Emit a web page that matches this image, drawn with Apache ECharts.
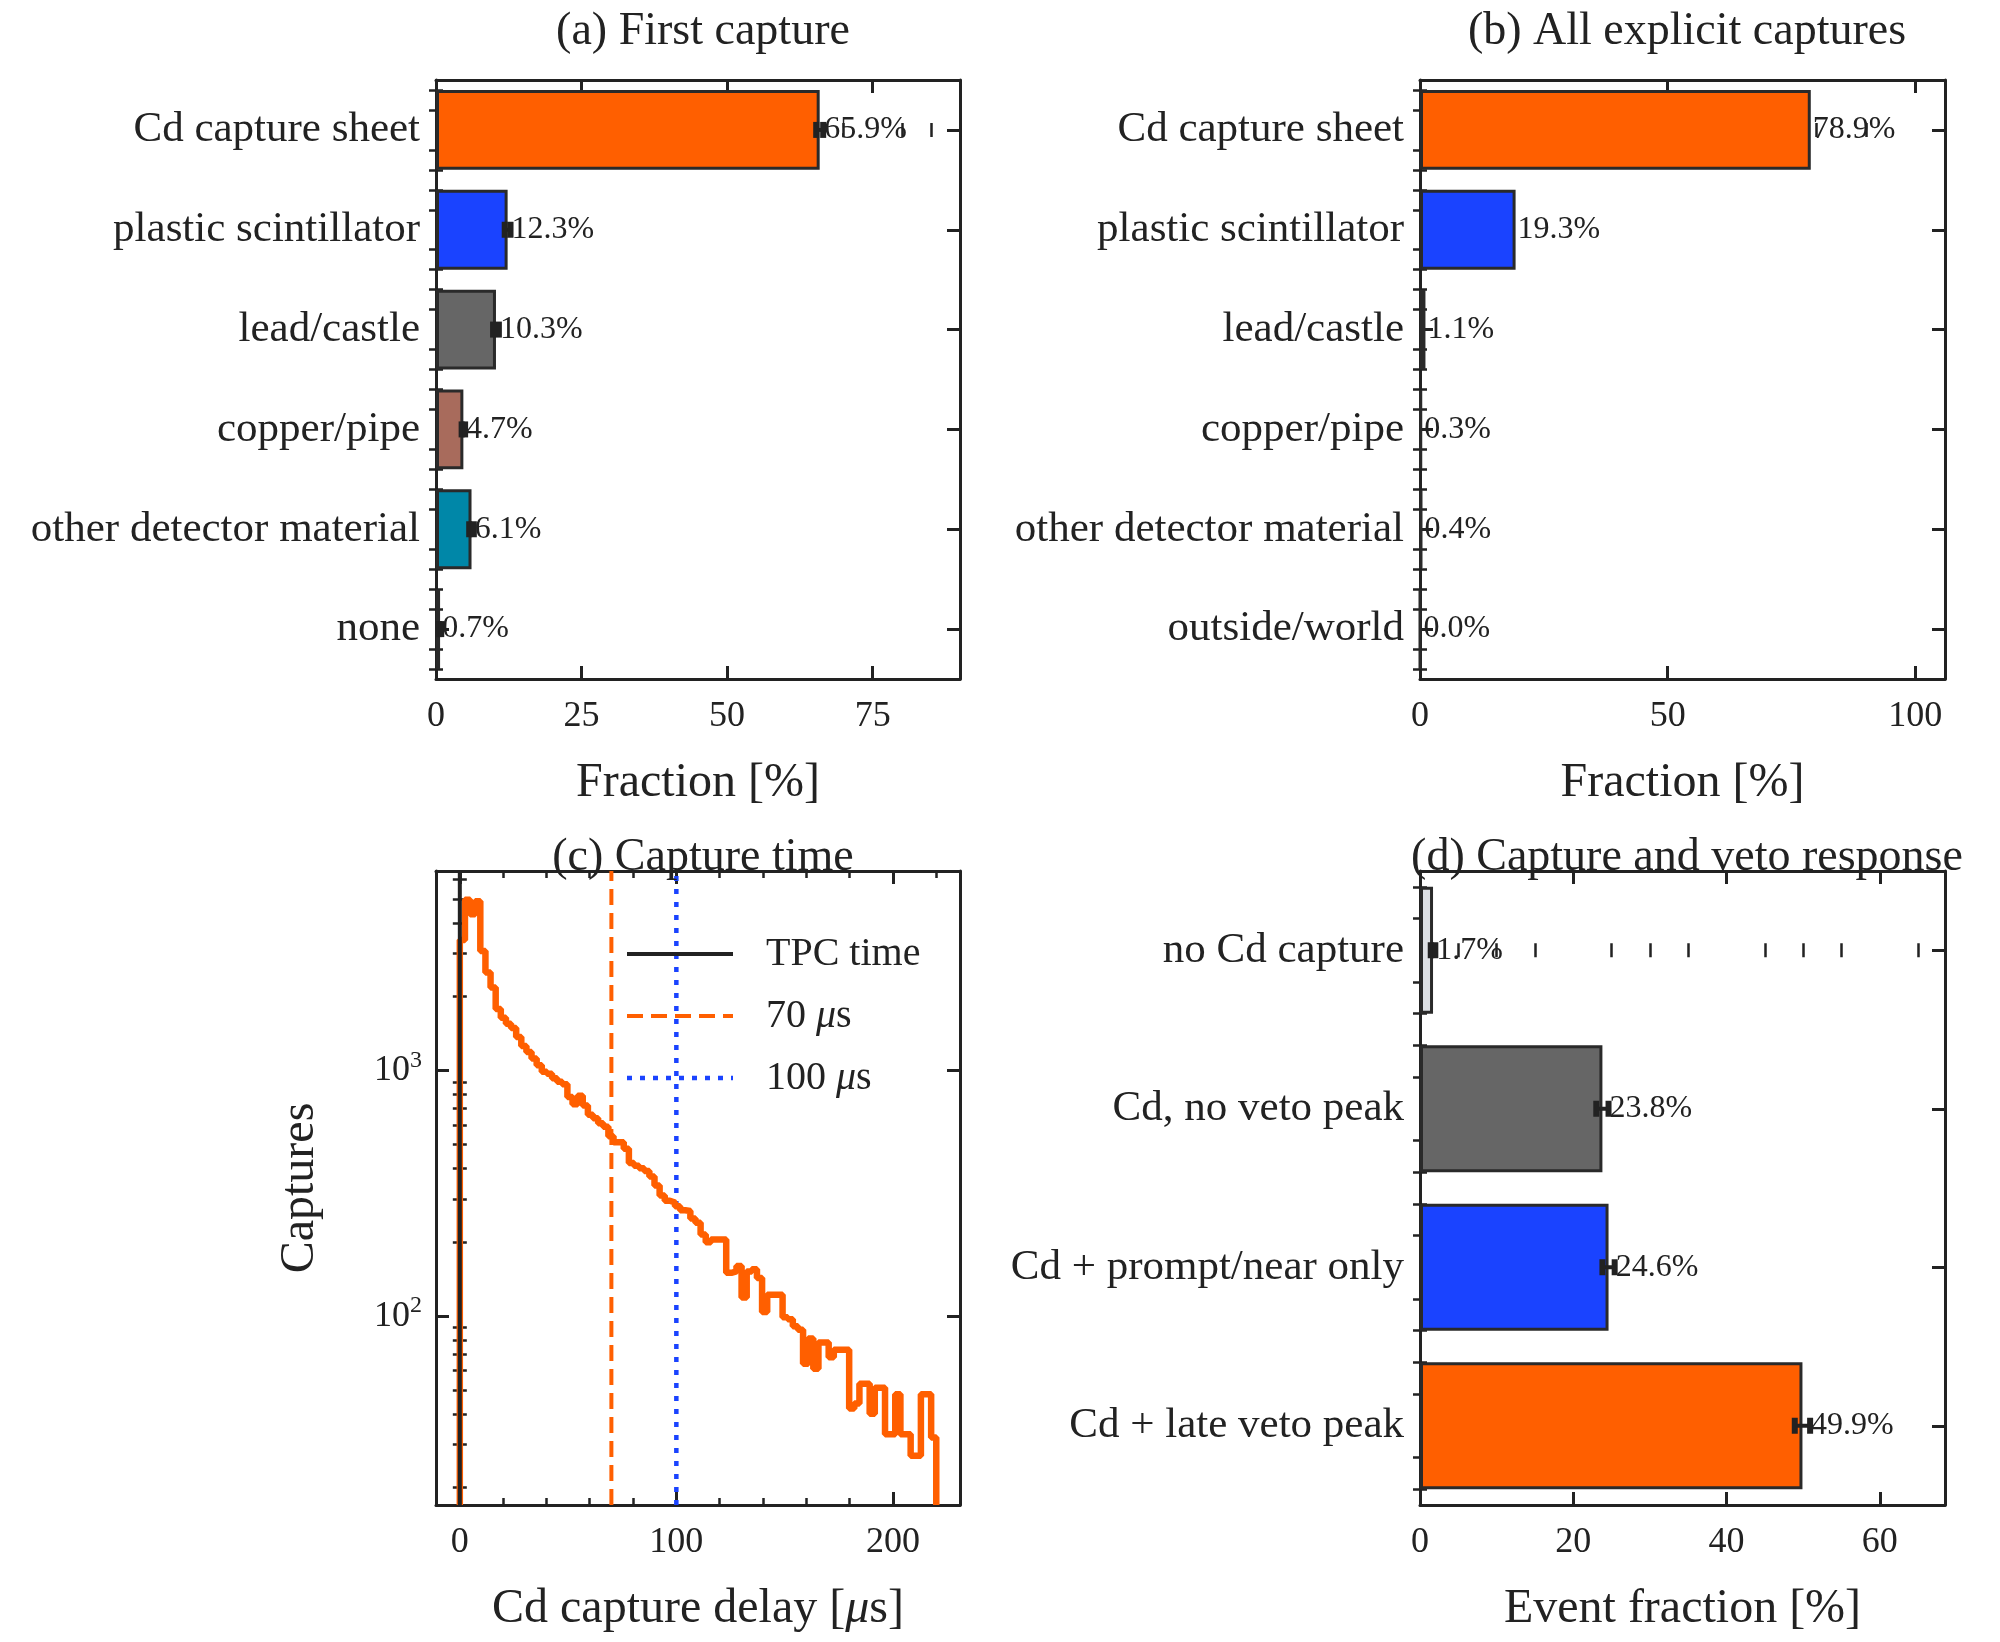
<!DOCTYPE html>
<html><head><meta charset="utf-8">
<script src="https://cdn.jsdelivr.net/npm/echarts@6/dist/echarts.min.js"></script>
<style>html,body{margin:0;background:#fff}#c{width:2000px;height:1642px}</style></head>
<body><div id="c"></div>
<script>
const catsA = ['Cd capture sheet','plastic scintillator','lead/castle','copper/pipe','other detector material','none'];
const valsA = [65.9,12.3,10.3,4.7,6.1,0.7];
const errA = [0.6,0.5,0.5,0.3,0.4,0.2];
const colA = ['#ff5f00','#1a43ff','#666666','#a86b5c','#0087a8','#c8ccd2'];
const catsB = ['Cd capture sheet','plastic scintillator','lead/castle','copper/pipe','other detector material','outside/world'];
const valsB = [78.9,19.3,1.1,0.3,0.4,0.0];
const colB = ['#ff5f00','#1a43ff','#666666','#a86b5c','#0087a8','#c8ccd2'];
const catsD = ['no Cd capture','Cd, no veto peak','Cd + prompt/near only','Cd + late veto peak'];
const valsD = [1.7,23.8,24.6,49.9];
const errD = [0.3,0.8,0.8,1.0];
const colD = ['#dde0e4','#666666','#1a43ff','#ff5f00'];
const binWidth = 2.366;
const counts = [3400,4960,4330,4900,3070,2510,2180,1780,1640,1550,1490,1370,1260,1190,1120,1050,990,970,930,900,880,780,730,790,720,660,640,610,590,540,510,510,480,420,410,400,390,370,340,310,295,290,280,270,268,250,240,215,200,205,205,205,150,152,160,119,152,155,143,104,122,122,122,99,97,91,88,64,81,61,78,78,68,73,73,73,42,44,53,53,40,51,51,33,33,48,33,33,27,27,48,48,32];
const cutLines = [0,70,100];
const legendNames = ['TPC time','70 ','100 '];

const F = 'Liberation Serif';
const ink = '#222';
const grids = [
  {left:436,top:80,width:524,height:599},
  {left:1420,top:80,width:525,height:599},
  {left:436,top:871,width:524,height:634},
  {left:1420,top:871,width:525,height:634}
];
const xAxes=[], yAxes=[], series=[];
function range(a,b,s){const r=[];for(let v=a;v<=b+1e-9;v+=s)r.push(Math.round(v*1000)/1000);return r;}
// adds 4 axes (labeled main, mirror, minor, mirror-minor); returns index of main
function addAxes(list, dim, g, o){
  const idx=list.length;
  const pos = dim==='x'?['bottom','top']:['left','right'];
  const base={type:o.type||'value',gridIndex:g,min:o.min,max:o.max,inverse:!!o.inverse,splitLine:{show:false}};
  const line={show:true,onZero:false,lineStyle:{color:ink,width:3}};
  list.push(Object.assign({},base,{position:pos[0],axisLine:line,
    name:o.name||'',nameLocation:'middle',nameGap:o.nameGap||80,
    nameTextStyle:{fontFamily:F,fontSize:48,color:ink,rich:{i:{fontFamily:F,fontStyle:'italic',fontSize:48,color:ink}}},
    axisLabel:Object.assign({fontFamily:F,fontSize:o.lfs||36,color:ink,margin:o.margin||20,customValues:o.major,
      showMinLabel:true,showMaxLabel:true},o.label||{}),
    axisTick:{show:true,inside:true,length:13,lineStyle:{color:ink,width:3},customValues:o.major}}));
  list.push(Object.assign({},base,{position:pos[1],axisLine:line,axisLabel:{show:false},
    axisTick:{show:true,inside:true,length:13,lineStyle:{color:ink,width:3},customValues:o.major}}));
  [0,1].forEach(k=>list.push(Object.assign({},base,{position:pos[k],axisLine:{show:false},axisLabel:{show:false},
    axisTick:{show:true,inside:true,length:7,lineStyle:{color:ink,width:2.5},customValues:o.minor}})));
  return idx;
}
function barPanel(g, cats, vals, cols, errs, xmax, major, minorStep, name){
  const xi=addAxes(xAxes,'x',g,{min:0,max:xmax,major:major,minor:range(0,xmax,minorStep).filter(v=>!major.includes(v)),name:'Fraction [%]'.length&&name});
  const n=cats.length;
  addAxes(yAxes,'y',g,{min:-0.5,max:n-0.5,inverse:true,major:range(0,n-1,1),
    minor:range(-0.4,n-0.6,0.2).filter(v=>Math.abs(v-Math.round(v))>1e-6),
    lfs:43,margin:16,label:{formatter:v=>cats[Math.round(v)]}});
  const yi=yAxes.length;
  yAxes.push({type:'category',gridIndex:g,data:cats,inverse:true,show:false});
  series.push({type:'bar',xAxisIndex:xi,yAxisIndex:yi,barWidth:'80%',
    data: vals.map((v,i)=>({value:v,itemStyle:{color:cols[i],borderColor:'#2a2a2a',borderWidth:3}})),
    label: errs? {show:false} : {show:true,position:'right',distance:2,fontFamily:F,fontSize:32,color:ink,formatter:p=>p.value.toFixed(1)+'%'}});
  if(errs){
    series.push({type:'custom',xAxisIndex:xi,yAxisIndex:yi,z:10,
      data: vals.map((v,i)=>[v,i,errs[i]]),
      renderItem:(params,api)=>{
        const v=api.value(0), c=api.value(1), e=api.value(2);
        const p1=api.coord([v-e,c]), p2=api.coord([v+e,c]);
        const h=8;
        return {type:'group',children:[
          {type:'line',shape:{x1:p1[0],y1:p1[1],x2:p2[0],y2:p2[1]},style:{stroke:'#222',lineWidth:4}},
          {type:'line',shape:{x1:p1[0],y1:p1[1]-h,x2:p1[0],y2:p1[1]+h},style:{stroke:'#222',lineWidth:6}},
          {type:'line',shape:{x1:p2[0],y1:p2[1]-h,x2:p2[0],y2:p2[1]+h},style:{stroke:'#222',lineWidth:6}},
          {type:'text',x:p2[0]+1,y:p2[1],style:{text:v.toFixed(1)+'%',font:'32px "'+F+'"',fill:ink,verticalAlign:'middle',align:'left'}}
        ]};
      }});
  }
}
barPanel(0,catsA,valsA,colA,errA,90,[0,25,50,75],5,'Fraction [%]');
barPanel(1,catsB,valsB,colB,null,106,[0,50,100],10,'Fraction [%]');
barPanel(3,catsD,valsD,colD,errD,68.5,[0,20,40,60],5,'Event fraction [%]');

// panel c
const cx0=addAxes(xAxes,'x',2,{min:-11,max:231,major:[0,100,200],minor:[20,40,60,80,120,140,160,180,220],
  name:'Cd capture delay [{i|μ}s]'});
const cy0=addAxes(yAxes,'y',2,{type:'log',min:17,max:6500,major:[100,1000],
  minor:[20,30,40,50,60,70,80,90,200,300,400,500,600,700,800,900,2000,3000,4000,5000,6000],
  name:'Captures',nameGap:112,margin:14,
  label:{formatter:v=>'10{s|'+Math.round(Math.log10(v))+'}',rich:{s:{fontFamily:F,fontSize:24,color:ink,verticalAlign:'top',padding:[0,0,20,0]}}}});
const hist=[[0,17]];
counts.forEach((c,i)=>hist.push([i*binWidth,c]));
hist.push([counts.length*binWidth,counts[counts.length-1]]);
hist.push([counts.length*binWidth,17]);
series.push({type:'line',xAxisIndex:cx0,yAxisIndex:cy0,step:'end',symbol:'none',data:hist,
  lineStyle:{color:'#ff5f00',width:6.5},z:3});
const vstyle=[['#222','solid',4],['#ff5f00',[16,8],4],['#1a43ff',[5,8],4.5]];
cutLines.forEach((x,k)=>series.push({type:'line',xAxisIndex:cx0,yAxisIndex:cy0,symbol:'none',
  data:[[x,17],[x,6500]],lineStyle:{color:vstyle[k][0],type:vstyle[k][1],width:vstyle[k][2]},z:k==0?4:2}));
// legend drawn as graphics
const gfx=[];
legendNames.forEach((nm,k)=>{
  const y=954+k*62;
  gfx.push({type:'line',shape:{x1:627,y1:y,x2:733,y2:y},style:{stroke:vstyle[k][0],lineWidth:vstyle[k][2],lineDash:k==0?null:vstyle[k][1]},z:50});
  gfx.push({type:'text',x:766,y:y,style:{text:k==0?nm:nm+'{i|μ}s',font:'40px "'+F+'"',fill:ink,verticalAlign:'middle',
    rich:{i:{fontFamily:F,fontStyle:'italic',fontSize:40,fill:ink}}},z:50});
});

const chart=echarts.init(document.getElementById('c'));
chart.setOption({
  animation:false,
  grid:grids,
  xAxis:xAxes,yAxis:yAxes,series:series,
  graphic:gfx,
  title:[
    {text:'(a) First capture',left:698,top:4,textAlign:'center'},
    {text:'(b) All explicit captures',left:1682,top:4,textAlign:'center'},
    {text:'(c) Capture time',left:698,top:830,textAlign:'center'},
    {text:'(d) Capture and veto response',left:1682,top:830,textAlign:'center'}
  ].map(t=>Object.assign(t,{textStyle:{fontFamily:F,fontSize:46,fontWeight:'normal',color:ink}}))
});
</script></body></html>
